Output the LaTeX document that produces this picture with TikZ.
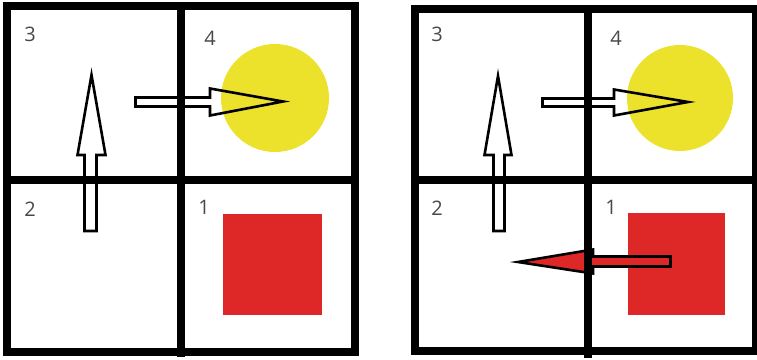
\documentclass[tikz,border=0pt]{standalone}
\usepackage{fontspec}
\setsansfont{Open Sans}
\usepackage{xcolor}
\usepackage{tikz}

\definecolor{sunyellow}{RGB}{236,226,44}
\definecolor{boxred}{RGB}{222,40,40}
\definecolor{numgray}{RGB}{72,72,72}

\begin{document}
\begin{tikzpicture}[
      x=1pt, y=-1pt,
      grid/.style={draw, line width=7.5pt, line join=miter},
      cellno/.style={text=numgray, font=\sffamily\fontsize{20}{20}\selectfont, inner sep=0pt},
      blockarr/.style={draw, line width=2.6pt, line join=miter, miter limit=20},
      redarr/.style={blockarr, fill=boxred}
    ]
    \useasboundingbox (0,0) rectangle (757,359);

    % left panel
    \fill[sunyellow] (275,98) circle[radius=54];
    \fill[boxred] (223,214) rectangle (322,315);
    \draw[blockarr] (84.5,231) -- (96.5,231) -- (96.5,155) -- (105.5,155)
      -- (91.5,75) -- (77.5,155) -- (84.5,155) -- cycle;
    \draw[blockarr] (135.5,97.5) -- (210,97.5) -- (210,88.5) -- (283,101.5)
      -- (210,115.5) -- (210,106.5) -- (135.5,106.5) -- cycle;
    \draw[grid] (7,6) rectangle (355,352);
    \draw[grid] (181,6) -- (181,357);
    \draw[grid] (7,180) -- (355,180);
    \node[cellno] (l3) at (30,34) {3};
    \node[cellno] (l4) at (210,38) {4};
    \node[cellno] (l2) at (30,209) {2};
    \node[cellno] (l1) at (204,207) {1};

    % right panel
    \fill[sunyellow] (680,98) circle[radius=53];
    \fill[boxred] (628,213) rectangle (725,315);
    \draw[blockarr] (493.5,231) -- (504.5,231) -- (504.5,155) -- (511.5,155)
      -- (498,76) -- (484.5,155) -- (493.5,155) -- cycle;
    \draw[blockarr] (542.5,98.5) -- (614,98.5) -- (614,89.5) -- (688,102)
      -- (614,115.5) -- (614,106.5) -- (542.5,106.5) -- cycle;
    \draw[redarr] (670.5,256.5) -- (593,256.5) -- (593,249.5) -- (518,262)
      -- (593,273.5) -- (593,266.5) -- (670.5,266.5) -- cycle;
    \draw[grid] (415,9) rectangle (756,351);
    \draw[grid] (588,9) -- (588,358);
    \draw[grid] (415,180) -- (756,180);
    \node[cellno] (r3) at (437,34) {3};
    \node[cellno] (r4) at (616,38) {4};
    \node[cellno] (r2) at (437,208) {2};
    \node[cellno] (r1) at (611,207) {1};
  \end{tikzpicture}
\end{document}
